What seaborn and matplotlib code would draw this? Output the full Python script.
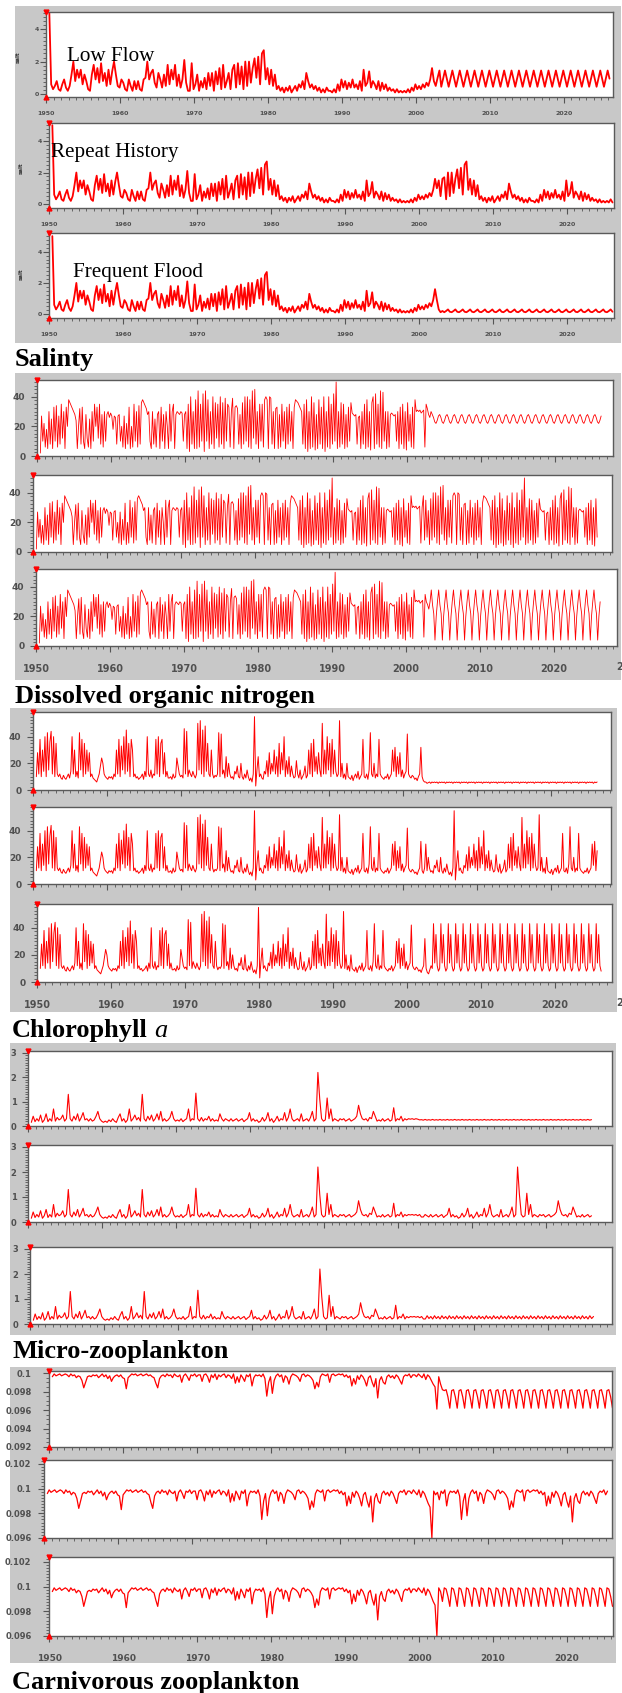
import numpy as np
import pandas as pd
import matplotlib
matplotlib.use("Agg")
import matplotlib.pyplot as plt
import seaborn as sns
from matplotlib.patches import Rectangle
from matplotlib.ticker import MultipleLocator, FuncFormatter

# ---------------------------------------------------------------- data
T0 = 1950.4                     # time of first sample
TAIL_YEARS = 23                 # scenario years after the 2003 transition year
SCENARIOS = ["Low Flow", "Repeat History", "Frequent Flood"]
TITLES = ["Salinty", "Dissolved organic nitrogen", "Chlorophyll", "Micro-zooplankton",
          "Carnivorous zooplankton"]

# group 1 (top variable, 0-5), 4 samples / year, 1951..2002
G1_HIST = [
    [5.0, 0.6, 0.3, 0.5], [0.8, 0.3, 0.2, 0.6], [0.9, 0.4, 0.2, 0.5], [1.2, 2.0, 0.8, 1.5],
    [1.0, 1.5, 0.6, 1.2], [0.8, 0.3, 0.2, 1.2], [1.8, 0.9, 1.6, 0.7], [1.9, 0.8, 1.3, 0.5],
    [1.5, 0.6, 1.4, 2.0],
    [1.2, 0.5, 0.4, 0.9], [0.7, 0.3, 0.2, 0.9], [0.5, 0.2, 0.8, 0.3], [0.8, 0.3, 0.2, 0.9],
    [1.0, 2.0, 0.9, 1.3], [1.5, 0.7, 0.4, 1.3], [0.9, 0.4, 1.2, 0.5], [1.8, 0.6, 1.5, 0.9],
    [1.8, 0.5, 1.2, 0.4], [0.9, 2.1, 0.7, 0.2],
    [0.2, 1.9, 0.3, 0.6], [1.2, 0.2, 0.8, 0.4], [1.0, 0.3, 1.3, 0.5], [1.3, 0.2, 1.4, 0.6],
    [1.6, 0.3, 1.8, 0.4], [0.8, 1.3, 0.3, 1.5], [1.8, 0.4, 1.9, 0.6], [1.7, 0.3, 2.0, 0.5],
    [2.0, 0.7, 1.6, 2.2], [1.0, 2.3, 0.6, 2.5],
    [2.7, 0.9, 1.6, 0.6], [1.5, 0.5, 1.2, 0.3], [0.5, 0.2, 0.4, 0.1], [0.4, 0.2, 0.5, 0.1],
    [0.3, 0.5, 0.2, 0.6], [0.4, 0.8, 0.3, 1.3], [0.8, 0.4, 0.6, 0.3], [0.5, 0.2, 0.4, 0.1],
    [0.3, 0.1, 0.4, 0.2], [0.2, 0.1, 0.3, 0.1],
    [0.6, 0.2, 0.9, 0.4], [0.8, 0.3, 0.7, 0.4], [0.9, 0.4, 0.6, 0.3], [0.8, 0.2, 1.5, 0.5],
    [0.7, 1.4, 0.4, 0.8], [0.6, 0.3, 0.8, 0.2], [0.7, 0.3, 0.6, 0.2], [0.4, 0.2, 0.3, 0.1],
    [0.3, 0.1, 0.2, 0.1], [0.2, 0.1, 0.3, 0.1],
    [0.4, 0.2, 0.6, 0.3], [0.5, 0.3, 0.6, 0.4], [0.7, 0.5, 0.9, 1.6],
]
G1_TRANS = [[0.8, 0.5, 1.0, 1.45], [1.0, 1.5, 0.5, 1.6], [0.9, 0.3, 0.12, 0.2]]
G1_CYCLE = [[0.45, 0.95, 1.45, 0.95], [0.12, 0.2, 0.3, 0.15]]
G1_REPEAT_FROM = 1977

# group 2 (salinity, 0-50), 6 samples / year
G2_HIST = [
    [2, 27, 10, 22, 6, 18], [5, 30, 8, 25, 5, 33], [10, 34, 6, 27, 8, 35], [12, 30, 5, 33, 20, 38],
    [36, 34, 32, 30, 28, 24], [5, 20, 32, 8, 33, 10], [5, 28, 12, 6, 25, 5], [30, 10, 35, 20, 33, 12],
    [35, 8, 28, 6, 30, 10],
    [28, 30, 26, 29, 27, 18], [27, 26, 8, 27, 28, 10], [20, 6, 27, 5, 22, 8], [33, 5, 20, 6, 35, 10],
    [30, 6, 34, 8, 36, 38], [36, 34, 32, 28, 30, 10], [5, 30, 8, 25, 6, 28], [30, 5, 33, 10, 28, 5],
    [30, 20, 5, 35, 10, 30], [35, 5, 28, 30, 29, 28],
    [30, 29, 10, 28, 30, 5], [35, 3, 40, 8, 30, 5], [38, 5, 44, 6, 35, 10], [42, 3, 44, 10, 38, 5],
    [30, 8, 40, 5, 36, 12], [35, 6, 40, 8, 36, 5], [39, 10, 35, 33, 6, 30], [39, 5, 33, 34, 32, 8],
    [28, 5, 36, 8, 40, 10], [40, 6, 38, 5, 44, 12],
    [45, 8, 30, 5, 35, 10], [35, 6, 38, 40, 38, 5], [40, 39, 8, 30, 5, 32], [33, 5, 28, 6, 35, 10],
    [30, 5, 33, 8, 35, 10], [30, 5, 33, 38, 37, 36], [34, 32, 30, 8, 35, 5], [38, 3, 30, 5, 40, 6],
    [36, 4, 28, 5, 38, 8], [33, 5, 40, 3, 30, 6],
    [40, 5, 35, 8, 42, 10], [50, 5, 30, 6, 36, 8], [35, 5, 28, 6, 33, 10], [36, 29, 28, 27, 28, 8],
    [26, 27, 5, 30, 8, 35], [5, 38, 6, 30, 4, 36], [40, 5, 42, 8, 35, 6], [44, 5, 43, 10, 30, 5],
    [30, 6, 28, 29, 28, 27], [28, 10, 30, 5, 33, 8],
    [35, 5, 30, 4, 36, 10], [28, 6, 33, 5, 38, 30], [31, 30, 31, 29, 30, 31],
]
G2_TRANS = [[6, 35, 32, 28, 26, 30], [6, 30, 38, 8, 35, 10], [6, 35, 30, 28, 25, 30]]
G2_CYCLE = [[28, 26, 23, 22, 24, 27], [38, 28, 22, 4, 20, 30]]
G2_REPEAT_FROM = 1978

# group 3 (dissolved organic nitrogen, 0-55), 6 samples / year
G3_HIST = [
    [10, 28, 12, 38, 10, 30], [14, 40, 10, 43, 15, 36], [44, 12, 40, 10, 35, 12], [10, 12, 9, 8, 11, 9],
    [8, 10, 12, 9, 14, 40], [12, 30, 10, 14, 9, 43], [15, 38, 10, 35, 12, 30], [14, 28, 10, 12, 9, 8],
    [7, 6, 9, 12, 18, 24],
    [20, 12, 10, 9, 8, 10], [9, 10, 8, 12, 10, 30], [12, 38, 10, 33, 15, 40], [12, 45, 14, 35, 10, 38],
    [30, 10, 12, 9, 10, 8], [9, 10, 12, 8, 14, 10], [40, 12, 10, 15, 9, 12], [11, 38, 12, 40, 10, 35],
    [38, 12, 28, 10, 14, 9], [9, 10, 8, 12, 9, 10],
    [24, 18, 12, 10, 11, 9], [46, 12, 44, 10, 15, 12], [10, 14, 11, 9, 12, 50], [15, 52, 12, 45, 10, 48],
    [14, 35, 12, 10, 30, 12], [9, 11, 10, 12, 43, 10], [42, 12, 15, 9, 25, 10], [20, 12, 9, 10, 8, 14],
    [12, 18, 10, 9, 20, 10], [8, 12, 9, 15, 10, 7],
    [9, 6, 12, 55, 3, 15], [25, 10, 12, 9, 8, 14], [12, 22, 10, 28, 12, 20], [14, 30, 12, 25, 10, 35],
    [12, 28, 15, 40, 10, 22], [12, 25, 10, 18, 12, 9], [10, 22, 12, 9, 15, 8], [10, 12, 18, 9, 11, 30],
    [12, 35, 10, 38, 14, 25], [12, 28, 15, 10, 50, 12],
    [30, 12, 40, 15, 35, 10], [38, 12, 30, 14, 10, 12], [52, 10, 20, 9, 12, 8], [20, 10, 9, 8, 11, 7],
    [10, 12, 9, 14, 8, 10], [12, 38, 10, 9, 12, 8], [15, 43, 12, 10, 20, 9], [12, 10, 38, 12, 10, 9],
    [8, 10, 9, 12, 8, 10], [12, 30, 14, 32, 10, 25],
    [12, 28, 10, 15, 9, 12], [14, 42, 12, 10, 9, 11], [10, 8, 9, 7, 10, 12],
]
G3_TRANS = [[32, 10, 7, 6, 6, 5], [32, 10, 8, 12, 30, 10], [32, 10, 7, 6, 9, 12]]
G3_CYCLE = [[5.5, 6, 5, 6, 5.5, 6], [10, 43, 14, 35, 12, 8]]
G3_REPEAT_FROM = 1977

# group 4 (chlorophyll a, 0-3), 4 samples / year
G4_HIST = [
    [0.15, 0.4, 0.18, 0.3], [0.2, 0.45, 0.15, 0.25], [0.5, 0.18, 0.3, 0.2], [0.7, 0.2, 0.35, 0.25],
    [0.3, 0.45, 0.2, 0.3], [1.3, 0.3, 0.2, 0.4], [0.25, 0.5, 0.2, 0.35], [0.55, 0.25, 0.3, 0.2],
    [0.3, 0.2, 0.25, 0.4],
    [0.6, 0.3, 0.2, 0.15], [0.2, 0.15, 0.25, 0.18], [0.3, 0.2, 0.15, 0.35], [0.5, 0.2, 0.3, 0.15],
    [0.25, 0.7, 0.2, 0.3], [0.45, 0.25, 0.35, 0.2], [1.3, 0.3, 0.2, 0.4], [0.25, 0.45, 0.2, 0.3],
    [0.5, 0.25, 0.6, 0.2], [0.3, 0.2, 0.25, 0.35],
    [0.6, 0.3, 0.2, 0.25], [0.2, 0.3, 0.18, 0.25], [0.3, 0.7, 0.2, 0.3], [0.25, 1.35, 0.3, 0.2],
    [0.35, 0.2, 0.3, 0.25], [0.4, 0.2, 0.3, 0.2], [0.25, 0.2, 0.5, 0.3], [0.2, 0.3, 0.25, 0.2],
    [0.3, 0.2, 0.25, 0.3], [0.2, 0.25, 0.3, 0.18],
    [0.25, 0.3, 0.55, 0.2], [0.3, 0.2, 0.25, 0.15], [0.2, 0.35, 0.2, 0.3], [0.55, 0.2, 0.3, 0.15],
    [0.25, 0.4, 0.2, 0.3], [0.25, 0.55, 0.2, 0.35], [0.7, 0.3, 0.2, 0.25], [0.3, 0.2, 0.5, 0.2],
    [0.25, 0.3, 0.2, 0.35], [0.6, 0.2, 0.3, 2.2],
    [1.1, 0.3, 0.2, 0.25], [1.15, 0.3, 0.7, 0.2], [0.3, 0.25, 0.2, 0.3], [0.25, 0.3, 0.2, 0.25],
    [0.3, 0.2, 0.25, 0.3], [0.4, 0.85, 0.5, 0.3], [0.25, 0.3, 0.2, 0.35], [0.3, 0.6, 0.4, 0.2],
    [0.25, 0.2, 0.3, 0.2], [0.25, 0.3, 0.2, 0.25],
    [0.75, 0.2, 0.3, 0.25], [0.4, 0.2, 0.3, 0.25], [0.3, 0.28, 0.3, 0.27],
]
G4_TRANS = [[0.3, 0.28, 0.25, 0.26], [0.3, 0.25, 0.3, 0.2], [0.3, 0.25, 0.3, 0.2]]
G4_CYCLE = [[0.24, 0.27, 0.24, 0.26], [0.2, 0.33, 0.22, 0.3]]
G4_REPEAT_FROM = 1977

# group 5 (carnivorous zooplankton), values in units of 0.001, 4 samples / year
G5_HIST_E3 = [
    [99.6, 99.9, 99.7, 99.8], [99.9, 99.7, 99.8, 99.9], [99.8, 99.6, 99.9, 99.7], [99.8, 99.5, 99.7, 99.6],
    [99.2, 98.4, 99.0, 99.6], [99.7, 99.6, 99.8, 99.7], [99.8, 99.5, 99.7, 99.9], [99.6, 99.8, 99.4, 99.7],
    [99.1, 99.5, 99.7, 99.8],
    [99.6, 99.8, 99.5, 99.4], [98.3, 99.5, 99.7, 99.9], [99.8, 99.9, 99.7, 99.8], [99.9, 99.7, 99.8, 99.9],
    [99.7, 99.8, 99.6, 99.5], [98.9, 98.4, 99.4, 99.7], [99.8, 99.6, 99.9, 99.7], [99.8, 99.5, 99.9, 99.7],
    [99.6, 99.8, 99.0, 99.7], [99.9, 99.6, 99.2, 99.8],
    [99.7, 99.9, 99.6, 99.8], [99.8, 99.1, 99.8, 99.9], [99.6, 99.0, 99.8, 99.5], [99.9, 99.3, 99.8, 99.6],
    [99.8, 99.9, 99.5, 99.8], [99.7, 99.4, 99.9, 98.9], [99.6, 99.0, 99.8, 99.5], [99.1, 99.8, 99.6, 99.9],
    [98.6, 99.5, 99.8, 99.7], [99.8, 99.6, 99.9, 99.4],
    [97.5, 99.0, 99.6, 97.8], [99.2, 99.7, 99.9, 99.6], [99.8, 99.0, 99.7, 99.5], [98.8, 99.6, 99.9, 99.8],
    [99.7, 99.5, 99.1, 99.8], [99.9, 99.6, 99.8, 99.7], [99.5, 99.2, 98.3, 99.0], [98.5, 99.6, 99.9, 99.8],
    [99.7, 99.9, 99.0, 99.8], [99.9, 99.7, 99.8, 99.9],
    [99.8, 99.9, 99.6, 99.8], [99.5, 99.7, 98.6, 99.4], [98.8, 99.7, 99.3, 99.8], [99.6, 99.2, 98.6, 99.5],
    [99.7, 99.0, 98.5, 99.4], [97.3, 99.2, 99.6, 99.0], [98.8, 99.6, 99.8, 99.5], [99.7, 99.4, 99.8, 99.6],
    [99.2, 98.8, 99.6, 99.8], [99.7, 99.9, 99.5, 99.8],
    [99.8, 99.6, 99.9, 99.7], [99.5, 99.9, 99.3, 99.8], [99.6, 99.2, 98.8, 98.5],
]
G5_TRANS_E3 = [[96.1, 99.6, 98.8, 98.2], [96.0, 99.8, 99.5, 99.7], [96.0, 99.9, 99.6, 98.8]]
G5_CYCLE_E3 = [[98.1, 98.2, 97.4, 96.2], [99.9, 99.8, 99.2, 98.4]]
G5_REPEAT_FROM = 1977


def scenario_series(hist, trans, cycle, repeat_from, scale=1.0):
    n = len(hist[0])
    h = np.concatenate([np.asarray(r, float) for r in hist])
    i0 = (repeat_from - 1951) * n
    lf = np.concatenate([h, trans[0], np.tile(cycle[0], TAIL_YEARS)])
    rh = np.concatenate([h, trans[1], h[i0:i0 + TAIL_YEARS * n]])
    ff = np.concatenate([h, trans[2], np.tile(cycle[1], TAIL_YEARS)])
    t = T0 + np.arange(len(lf)) / n
    return [(t, lf * scale), (t, rh * scale), (t, ff * scale)]


SERIES = [
    scenario_series(G1_HIST, G1_TRANS, G1_CYCLE, G1_REPEAT_FROM),
    scenario_series(G2_HIST, G2_TRANS, G2_CYCLE, G2_REPEAT_FROM),
    scenario_series(G3_HIST, G3_TRANS, G3_CYCLE, G3_REPEAT_FROM),
    scenario_series(G4_HIST, G4_TRANS, G4_CYCLE, G4_REPEAT_FROM),
    scenario_series(G5_HIST_E3, G5_TRANS_E3, G5_CYCLE_E3, G5_REPEAT_FROM, scale=1e-3),
]

# ---------------------------------------------------------------- layout (pixels)
W, H = 622, 1693
PX_PER_YEAR = 7.4
GROUPS = [
    dict(bg=(15, 6, 621, 343),
         panels=[(46, 12, 613, 97, -0.18, 5.05), (49, 123, 614, 208, -0.25, 5.14),
                 (49, 233, 614, 318, -0.25, 5.2)],
         major=2, minor=0.25, yfs=4.5, ypad=[1.0, 1.0, 1.0], xlab=[True, True, True],
         xfs=4.5, xpad=6.0, lw=1.3),
    dict(bg=(15, 373, 621, 680),
         panels=[(37, 380, 613, 456, 0, 51.3), (33, 475, 612, 552, 0, 52.0),
                 (36, 569, 617, 646, 0, 52.2)],
         major=20, minor=2.5, yfs=6.5, ypad=[4.3, 4.3, 4.3], xlab=[False, False, True],
         xfs=7, xpad=9.2, lw=0.6),
    dict(bg=(10, 708, 617, 1012),
         panels=[(33, 712, 611, 790, 0, 58.5), (33, 807, 611, 884, 0, 57.8),
                 (37, 904, 612, 982, 0, 57.5)],
         major=20, minor=2.5, yfs=6.5, ypad=[4.3, 4.3, 4.3], xlab=[False, False, True],
         xfs=7, xpad=9.2, lw=0.7),
    dict(bg=(10, 1043, 616, 1335),
         panels=[(28, 1051, 612, 1126, 0, 3.08), (28, 1145, 612, 1222, 0, 3.08),
                 (30, 1247, 612, 1324, 0, 3.08)],
         major=1, minor=0.1, yfs=6.0, ypad=[4.3, 4.3, 4.3], xlab=[False, False, False],
         xfs=6.5, xpad=8.5, lw=0.8),
    dict(bg=(10, 1367, 616, 1663),
         panels=[(49, 1371, 612, 1447, 0.092, 0.10022), (44, 1460, 612, 1538, 0.096, 0.10232),
                 (49, 1557, 613, 1636, 0.096, 0.1024)],
         major=0.002, minor=[0.0005, 0.00025, 0.00025], yfs=6.0, ypad=[8.6, 5.0, 8.6],
         xlab=[False, False, True], xfs=6.5, xpad=8.8, lw=0.9),
]
TITLE_POS = [(15, 366), (15, 703), (12, 1037), (12, 1358), (12, 1689)]
SCEN_LABEL_POS = [(67, 61), (51, 157), (73, 277)]
YLAB_POS = [(18, 57), (21, 168), (21, 274)]
CUT_LABEL_POS = {1: 667, 2: 1003}    # partial "2030" label at the right edge

# ---------------------------------------------------------------- drawing
sns.set_theme(style="white")
plt.rcParams["font.family"] = ["DejaVu Sans"]

fig = plt.figure(figsize=(W / 100, H / 100), dpi=100)
fig.patch.set_facecolor("white")

LINE_RED = "#ff0000"
TICK_GRAY = "#505050"
SERIF = ["Liberation Serif", "DejaVu Serif"]

for gi, g in enumerate(GROUPS):
    bx0, by0, bx1, by1 = g["bg"]
    fig.add_artist(Rectangle((bx0 / W, 1 - by1 / H), (bx1 - bx0) / W, (by1 - by0) / H,
                             transform=fig.transFigure, facecolor="#c8c8c8",
                             edgecolor="none", zorder=-5))
    for pi, (L, T, R, B, ylo, yhi) in enumerate(g["panels"]):
        ax = fig.add_axes([L / W, 1 - B / H, (R - L) / W, (B - T) / H])
        ax.set_facecolor("white")
        t, y = SERIES[gi][pi]
        sns.lineplot(x=t, y=y, ax=ax, color=LINE_RED, linewidth=g["lw"],
                     estimator=None, errorbar=None, sort=False)
        xlo = 1949.95
        xhi = 1950 + (R - L) / PX_PER_YEAR
        ax.set_xlim(xlo, xhi)
        ax.set_ylim(ylo, yhi)
        ax.set_xlabel("")
        ax.set_ylabel("")
        for s in ax.spines.values():
            s.set_color("#5a5a5a")
            s.set_linewidth(1.0)
        ax.xaxis.set_major_locator(MultipleLocator(10))
        ax.xaxis.set_minor_locator(MultipleLocator(1))
        mn = g["minor"][pi] if isinstance(g["minor"], list) else g["minor"]
        ax.yaxis.set_major_locator(MultipleLocator(g["major"]))
        ax.yaxis.set_minor_locator(MultipleLocator(mn))
        ax.yaxis.set_major_formatter(FuncFormatter(lambda v, p: f"{v:g}"))
        ax.xaxis.set_major_formatter(FuncFormatter(lambda v, p: f"{v:.0f}"))
        ax.tick_params(axis="both", which="both", direction="out", color="#555555",
                       bottom=True, left=True, top=False, right=False)
        ax.tick_params(axis="both", which="major", length=4, width=0.8)
        ax.tick_params(axis="both", which="minor", length=2, width=0.6)
        ax.tick_params(axis="y", which="major", labelsize=g["yfs"], labelcolor=TICK_GRAY,
                       pad=g["ypad"][pi])
        ax.tick_params(axis="x", which="major", labelsize=g["xfs"], labelcolor=TICK_GRAY,
                       pad=g["xpad"], labelbottom=g["xlab"][pi])
        for lab in ax.get_xticklabels() + ax.get_yticklabels():
            lab.set_fontweight("bold")
        # slider markers at the top and bottom of the value axis
        ax.plot([xlo], [yhi], marker="v", color=LINE_RED, ms=3.5, clip_on=False, zorder=6)
        ax.plot([xlo], [ylo], marker="^", color=LINE_RED, ms=3.5, clip_on=False, zorder=6)
        if gi == 0:
            sx, sy = SCEN_LABEL_POS[pi]
            fig.text(sx / W, 1 - sy / H, SCENARIOS[pi], fontfamily=SERIF, fontsize=15.2,
                     va="baseline", ha="left", color="black")
            lx, ly = YLAB_POS[pi]
            fig.text(lx / W, 1 - ly / H, "salt", rotation=90, fontsize=4, fontweight="bold",
                     color="#303030", ha="center", va="center")
    if gi in CUT_LABEL_POS:
        fig.text(616 / W, 1 - CUT_LABEL_POS[gi] / H, "2", fontsize=g["xfs"], color=TICK_GRAY,
                 fontweight="bold", ha="left", va="center")

# group titles (captions between groups)
for i, (tx, ty) in enumerate(TITLE_POS):
    txt = fig.text(tx / W, 1 - ty / H, TITLES[i], fontfamily=SERIF, fontweight="bold",
                   fontsize=19, va="baseline", ha="left", color="black")
    if TITLES[i] == "Chlorophyll":
        fig.canvas.draw()
        bb = txt.get_window_extent()
        fig.text((bb.x1 + 6) / W, 1 - ty / H, "a", fontfamily=SERIF, fontstyle="italic",
                 fontsize=19, va="baseline", ha="left", color="black")

fig.savefig("out.png", dpi=100, facecolor="white")
